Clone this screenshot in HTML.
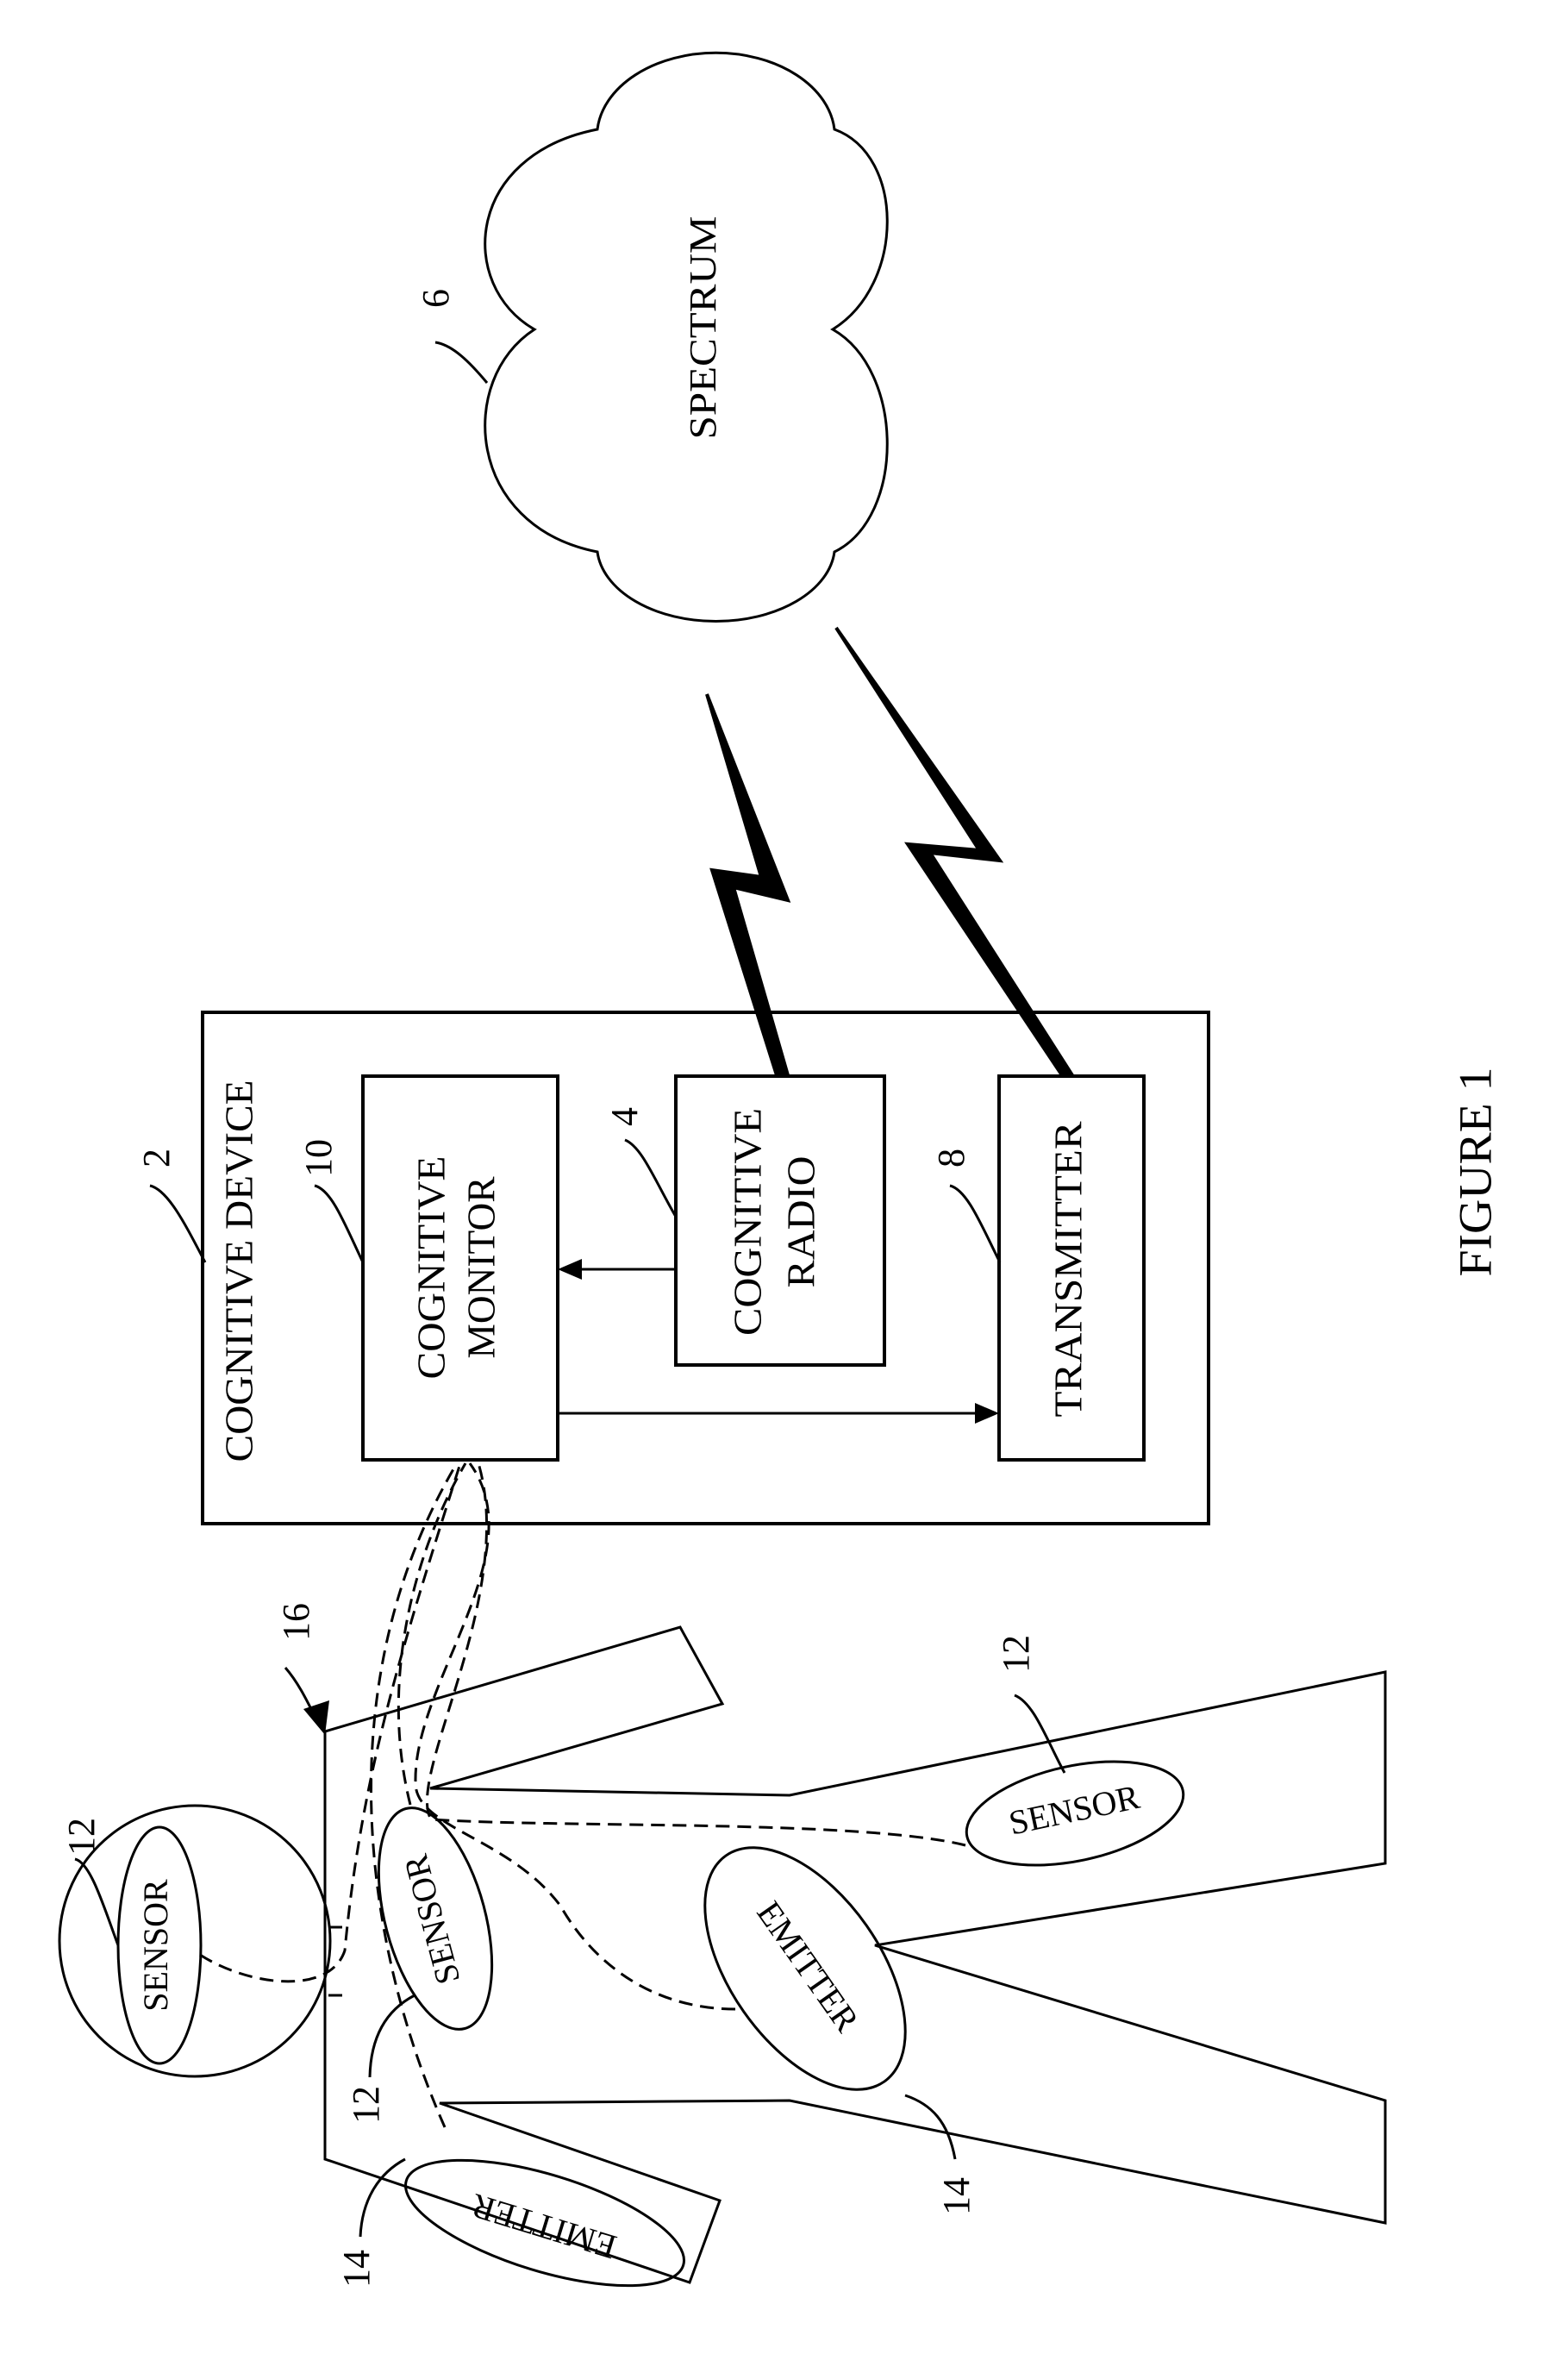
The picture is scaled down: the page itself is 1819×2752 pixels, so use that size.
<!DOCTYPE html>
<html><head><meta charset="utf-8"><style>html,body{margin:0;padding:0;background:#fff}svg{display:block}</style></head>
<body>
<svg width="1819" height="2752" viewBox="0 0 1819 2752" xmlns="http://www.w3.org/2000/svg" font-family="Liberation Serif, serif" fill="none" stroke="#000">
<rect x="0" y="0" width="1819" height="2752" fill="#fff" stroke="none"/>
<!-- Cloud -->
<path d="M693 150 A138 97 0 0 1 968 150 C1050 180 1050 330 966 382 C1050 430 1050 600 968 640 A138 88 0 0 1 693 640 C540 610 530 440 620 382 C530 330 540 180 693 150 Z" stroke-width="3"/>
<text x="820" y="380" transform="rotate(-90 820 380)" text-anchor="middle" dominant-baseline="middle" font-size="44" fill="#000" stroke="none" textLength="259" lengthAdjust="spacingAndGlyphs">SPECTRUM</text>
<text x="510" y="346" transform="rotate(-90 510 346)" text-anchor="middle" dominant-baseline="middle" font-size="44" fill="#000" stroke="none">6</text>
<path d="M505 397 C525 400 545 420 565 444" stroke-width="3"/>
<!-- Lightning -->
<polygon points="820,805 914,1044 851,1029 914,1247 901,1247 826,1009 883,1017" fill="#000" stroke="#000" stroke-width="4" stroke-linejoin="miter"/>
<polygon points="970,728 1160,998 1079,989 1244,1247 1232,1247 1053,979 1136,986" fill="#000" stroke="#000" stroke-width="4"/>
<!-- Device boxes -->
<rect x="235" y="1174" width="1167" height="593" stroke-width="4"/>
<rect x="421" y="1248" width="226" height="445" stroke-width="4"/>
<rect x="784" y="1248" width="242" height="335" stroke-width="4"/>
<rect x="1159" y="1248" width="168" height="445" stroke-width="4"/>
<line x1="784" y1="1472" x2="672" y2="1472" stroke-width="3"/>
<polygon points="647,1472 675,1460 675,1484" fill="#000" stroke="none"/>
<line x1="647" y1="1639" x2="1135" y2="1639" stroke-width="3"/>
<polygon points="1159,1639 1131,1627 1131,1651" fill="#000" stroke="none"/>
<g fill="#000" stroke="none" text-anchor="middle" dominant-baseline="middle">
<text x="282" y="1474" transform="rotate(-90 282 1474)" font-size="46" textLength="443" lengthAdjust="spacingAndGlyphs">COGNITIVE DEVICE</text>
<text x="505" y="1470" transform="rotate(-90 505 1470)" font-size="46" textLength="259" lengthAdjust="spacingAndGlyphs">COGNITIVE</text>
<text x="563" y="1470" transform="rotate(-90 563 1470)" font-size="46" textLength="211" lengthAdjust="spacingAndGlyphs">MONITOR</text>
<text x="872" y="1417" transform="rotate(-90 872 1417)" font-size="46" textLength="264" lengthAdjust="spacingAndGlyphs">COGNITIVE</text>
<text x="934" y="1417" transform="rotate(-90 934 1417)" font-size="46" textLength="153" lengthAdjust="spacingAndGlyphs">RADIO</text>
<text x="1244" y="1472" transform="rotate(-90 1244 1472)" font-size="46" textLength="343" lengthAdjust="spacingAndGlyphs">TRANSMITTER</text>
<text x="1717" y="1359" transform="rotate(-90 1717 1359)" font-size="54" textLength="243" lengthAdjust="spacingAndGlyphs">FIGURE 1</text>
<text x="186" y="1343" transform="rotate(-90 186 1343)" font-size="44">2</text>
<text x="374" y="1343" transform="rotate(-90 374 1343)" font-size="44">10</text>
<text x="729" y="1295" transform="rotate(-90 729 1295)" font-size="44">4</text>
<text x="1108" y="1343" transform="rotate(-90 1108 1343)" font-size="44">8</text>
</g>
<path d="M174 1375 C195 1380 215 1420 238 1464" stroke-width="3"/>
<path d="M365 1375 C385 1380 400 1420 421 1464" stroke-width="3"/>
<path d="M725 1322 C745 1330 760 1370 784 1411" stroke-width="3"/>
<path d="M1102 1375 C1122 1380 1138 1420 1160 1464" stroke-width="3"/>
<!-- Human figure -->
<polygon points="377,2008 789,1887 838,1976 499,2074 916,2082 1607,1939 1607,2161 1015,2256 1607,2436 1607,2578 916,2436 510,2439 835,2552 800,2647 377,2504" stroke-width="3"/>
<circle cx="226" cy="2251" r="157" stroke-width="3"/>
<line x1="381" y1="2235" x2="397" y2="2235" stroke-width="3"/>
<line x1="381" y1="2314" x2="397" y2="2314" stroke-width="3"/>
<ellipse cx="185" cy="2256" rx="48" ry="137" stroke-width="3"/>
<ellipse cx="505" cy="2225" rx="58" ry="132" transform="rotate(-15 505 2225)" stroke-width="3"/>
<ellipse cx="1247" cy="2103" rx="128" ry="55" transform="rotate(-12 1247 2103)" stroke-width="3"/>
<ellipse cx="934" cy="2283" rx="87" ry="160" transform="rotate(-35 934 2283)" stroke-width="3"/>
<ellipse cx="632" cy="2578" rx="168" ry="56" transform="rotate(17 632 2578)" stroke-width="3"/>
<g fill="#000" stroke="none" text-anchor="middle" dominant-baseline="middle" font-size="40">
<text x="185" y="2256" transform="rotate(-90 185 2256)">SENSOR</text>
<text x="505" y="2225" transform="rotate(-105 505 2225)">SENSOR</text>
<text x="1247" y="2103" transform="rotate(-12 1247 2103)">SENSOR</text>
<text x="934" y="2283" transform="rotate(55 934 2283)">EMITTER</text>
<text x="632" y="2578" transform="rotate(197 632 2578)">EMITTER</text>
<text x="348" y="1881" transform="rotate(-90 348 1881)" font-size="44">16</text>
<text x="99" y="2130" transform="rotate(-90 99 2130)" font-size="44">12</text>
<text x="429" y="2441" transform="rotate(-90 429 2441)" font-size="44">12</text>
<text x="1183" y="1918" transform="rotate(-90 1183 1918)" font-size="44">12</text>
<text x="1114" y="2547" transform="rotate(-90 1114 2547)" font-size="44">14</text>
<text x="418" y="2631" transform="rotate(-90 418 2631)" font-size="44">14</text>
</g>
<path d="M331 1934 C345 1950 355 1970 365 1990" stroke-width="3"/>
<polygon points="377,2012 352,1982 382,1972" fill="#000" stroke="none"/>
<path d="M87 2156 C105 2160 120 2210 137 2256" stroke-width="3"/>
<path d="M429 2409 C430 2360 450 2330 481 2314" stroke-width="3"/>
<path d="M1177 1966 C1200 1975 1215 2020 1235 2056" stroke-width="3"/>
<path d="M1108 2504 C1100 2460 1080 2440 1050 2430" stroke-width="3"/>
<path d="M418 2594 C420 2550 440 2520 470 2504" stroke-width="3"/>
<!-- Dashed connectors -->
<g stroke-width="3" stroke-dasharray="16 9">
<path d="M232 2267 C290 2304 383 2314 400 2262 C420 2050 470 1900 534 1697"/>
<path d="M476 2093 C440 1950 480 1800 540 1697"/>
<path d="M516 2467 C420 2250 380 1950 530 1697"/>
<path d="M1120 2140 C1000 2110 650 2120 500 2110 C470 2060 600 1850 555 1697"/>
<path d="M853 2330 C760 2330 690 2280 650 2210 C590 2130 480 2120 482 2066 C480 1950 620 1800 545 1697"/>
</g>
</svg>
</body></html>
